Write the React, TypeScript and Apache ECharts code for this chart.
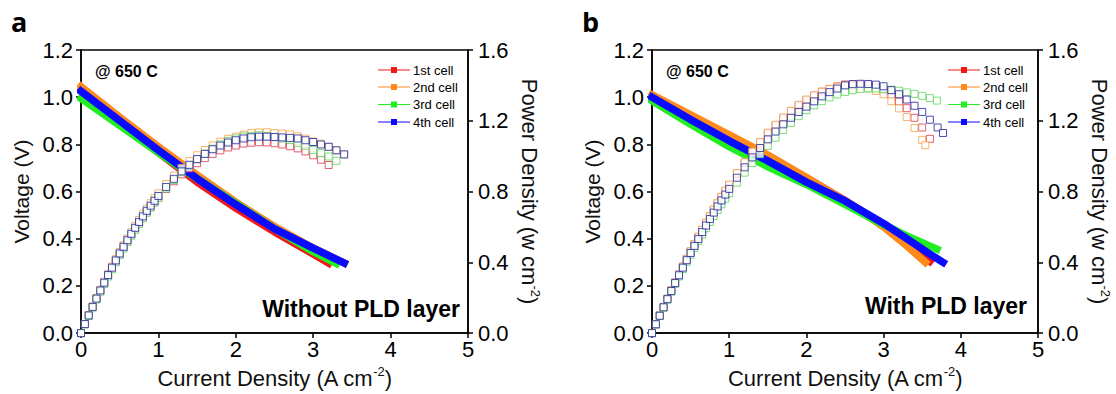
import React, { useEffect, useRef } from "react";
import * as echarts from "echarts";

const FONT = "'Liberation Sans', Arial, sans-serif";

const CELLS = ["1st cell", "2nd cell", "3rd cell", "4th cell"];
const VOLT_COLORS = ["#f01818", "#ff8a1c", "#22ee22", "#0a0aff"];
const POWER_COLORS = ["#d83a4a", "#f3a24a", "#5ad65a", "#22229e"];

const X_TICKS = [0, 1, 2, 3, 4, 5];
const V_TICKS = [0, 0.2, 0.4, 0.6, 0.8, 1.0, 1.2];
const P_TICKS = [0, 0.4, 0.8, 1.2, 1.6];

// current grid on which the power-density points were read (A cm-2)
const CURRENT_GRID = [
  0, 0.05, 0.1, 0.15, 0.2, 0.25, 0.3, 0.35, 0.4, 0.45, 0.5, 0.55, 0.6, 0.65, 0.7, 0.75, 0.8, 0.85, 0.9, 0.95, 1.0,
  1.1, 1.2, 1.3, 1.4, 1.5, 1.6, 1.7, 1.8, 1.9, 2.0, 2.1, 2.2, 2.3, 2.4, 2.5, 2.6, 2.7, 2.8, 2.9, 3.0, 3.1, 3.2, 3.3,
  3.4, 3.5, 3.6, 3.7,
];

// ---------- panel a (without PLD layer) ----------
const a1VoltI = [0, 0.5, 1, 1.5, 2, 2.5, 3, 3.2];
const a1Volt = [1.03, 0.895, 0.765, 0.64, 0.53, 0.429, 0.335, 0.297];
const a1Power = [
  0, 0.051, 0.1, 0.148, 0.195, 0.241, 0.285, 0.327, 0.369, 0.409, 0.448, 0.485, 0.521, 0.556, 0.59, 0.623, 0.654,
  0.683, 0.712, 0.739, 0.765, 0.814, 0.858, 0.897, 0.931, 0.96, 0.989, 1.013, 1.033, 1.049, 1.06, 1.071, 1.076,
  1.079, 1.078, 1.073, 1.066, 1.056, 1.044, 1.027, 1.005, 0.98, 0.95,
];

const a2VoltI = [0, 0.5, 1, 1.5, 2, 2.5, 3, 3.4];
const a2Volt = [1.045, 0.915, 0.79, 0.67, 0.555, 0.452, 0.361, 0.297];
const a2Power = [
  0, 0.052, 0.102, 0.151, 0.199, 0.245, 0.29, 0.334, 0.376, 0.418, 0.458, 0.496, 0.534, 0.57, 0.606, 0.639, 0.672,
  0.703, 0.734, 0.762, 0.79, 0.843, 0.89, 0.933, 0.972, 1.005, 1.035, 1.061, 1.082, 1.098, 1.11, 1.121, 1.131,
  1.134, 1.135, 1.13, 1.128, 1.123, 1.112, 1.099, 1.083, 1.07, 1.053, 1.033, 1.01,
];

const a3VoltI = [0, 0.5, 1, 1.5, 2, 2.5, 3, 3.3];
const a3Volt = [0.995, 0.88, 0.765, 0.655, 0.55, 0.443, 0.345, 0.295];
const a3Power = [
  0, 0.049, 0.097, 0.144, 0.19, 0.234, 0.278, 0.32, 0.361, 0.401, 0.44, 0.478, 0.514, 0.55, 0.584, 0.617, 0.649,
  0.68, 0.709, 0.738, 0.765, 0.817, 0.865, 0.909, 0.948, 0.983, 1.014, 1.042, 1.066, 1.085, 1.1, 1.111, 1.115,
  1.118, 1.114, 1.108, 1.1, 1.091, 1.075, 1.059, 1.035, 1.017, 0.998, 0.974,
];

const a4VoltI = [0, 0.5, 1, 1.5, 2, 2.5, 3, 3.4];
const a4Volt = [1.025, 0.9, 0.775, 0.655, 0.545, 0.442, 0.36, 0.297];
const a4Power = [
  0, 0.051, 0.1, 0.148, 0.195, 0.241, 0.285, 0.328, 0.37, 0.411, 0.45, 0.488, 0.525, 0.561, 0.595, 0.628, 0.66,
  0.691, 0.72, 0.748, 0.775, 0.826, 0.872, 0.914, 0.951, 0.983, 1.013, 1.039, 1.06, 1.077, 1.09, 1.1, 1.107, 1.11,
  1.11, 1.108, 1.106, 1.103, 1.1, 1.09, 1.08, 1.066, 1.053, 1.033, 1.01,
];

// ---------- panel b (with PLD layer) ----------
const b1VoltI = [0, 0.5, 1, 1.5, 2, 2.5, 3, 3.3, 3.6];
const b1Volt = [1.005, 0.92, 0.835, 0.752, 0.658, 0.562, 0.458, 0.385, 0.305];
const b1Power = [
  0, 0.05, 0.099, 0.147, 0.194, 0.241, 0.286, 0.331, 0.375, 0.418, 0.46, 0.501, 0.542, 0.581, 0.62, 0.658, 0.695,
  0.731, 0.767, 0.801, 0.835, 0.9, 0.962, 1.021, 1.077, 1.128, 1.173, 1.214, 1.253, 1.286, 1.316, 1.342, 1.364,
  1.38, 1.394, 1.405, 1.407, 1.404, 1.4, 1.389, 1.374, 1.345, 1.309, 1.271, 1.217, 1.162, 1.098,
];
const b1PowerEnd: number[] = [];

const b2VoltI = [0, 0.5, 1, 1.5, 2, 2.5, 3, 3.3, 3.54];
const b2Volt = [1.01, 0.925, 0.84, 0.755, 0.66, 0.56, 0.45, 0.37, 0.3];
const b2Power = [
  0, 0.05, 0.099, 0.148, 0.195, 0.242, 0.288, 0.333, 0.377, 0.42, 0.463, 0.504, 0.545, 0.585, 0.624, 0.662, 0.699,
  0.736, 0.771, 0.806, 0.84, 0.905, 0.967, 1.026, 1.081, 1.133, 1.178, 1.219, 1.256, 1.29, 1.32, 1.344, 1.364,
  1.38, 1.392, 1.4, 1.399, 1.393, 1.383, 1.369, 1.35, 1.311, 1.27, 1.221, 1.159, 1.092,
];
const b2PowerEnd = [3.54, 1.062];

const b3VoltI = [0, 0.5, 1, 1.5, 2, 2.5, 3, 3.3, 3.5, 3.69];
const b3Volt = [0.985, 0.885, 0.79, 0.705, 0.63, 0.545, 0.46, 0.412, 0.383, 0.356];
const b3Power = [
  0, 0.049, 0.097, 0.143, 0.189, 0.234, 0.278, 0.32, 0.362, 0.403, 0.443, 0.482, 0.52, 0.557, 0.593, 0.628, 0.662,
  0.696, 0.728, 0.76, 0.79, 0.85, 0.907, 0.961, 1.011, 1.058, 1.104, 1.148, 1.188, 1.226, 1.26, 1.287, 1.311,
  1.332, 1.349, 1.363, 1.373, 1.38, 1.383, 1.383, 1.38, 1.376, 1.37, 1.36, 1.352, 1.341, 1.328,
];
const b3PowerEnd = [3.69, 1.314];

const b4VoltI = [0, 0.5, 1, 1.5, 2, 2.5, 3, 3.3, 3.6, 3.77];
const b4Volt = [1.0, 0.905, 0.815, 0.73, 0.64, 0.56, 0.465, 0.4, 0.335, 0.3];
const b4Power = [
  0, 0.05, 0.098, 0.146, 0.192, 0.238, 0.283, 0.327, 0.37, 0.412, 0.453, 0.493, 0.532, 0.571, 0.608, 0.645, 0.681,
  0.716, 0.75, 0.783, 0.815, 0.878, 0.937, 0.993, 1.046, 1.095, 1.139, 1.18, 1.217, 1.25, 1.28, 1.31, 1.338, 1.362,
  1.382, 1.4, 1.407, 1.409, 1.408, 1.404, 1.395, 1.373, 1.35, 1.32, 1.285, 1.25, 1.206, 1.162,
];
const b4PowerEnd = [3.77, 1.131];

const PANEL_LABELS = ["a", "b"];
const TEMP_LABEL = "@ 650 C";
const CONDITION_LABELS = ["Without PLD layer", "With PLD layer"];

// layout
const GRIDS = [
  { left: 81, top: 50, width: 387, height: 287 },
  { left: 652, top: 50, width: 386, height: 287 },
];

function pairs(xs: number[], ys: number[]) {
  return ys.map((y, i) => [xs[i], y]);
}
function powerData(vals: number[], end: number[]) {
  const d = pairs(CURRENT_GRID, vals);
  if (end.length === 2) d.push([end[0], end[1]]);
  return d;
}

export default function App() {
  const ref = useRef<HTMLDivElement>(null);

  useEffect(() => {
    if (!ref.current) return;
    const chart = echarts.init(ref.current, undefined, { renderer: "svg" });

    const axisLine = { show: true, lineStyle: { color: "#000", width: 1.5 } };
    const axisTick = { show: true, inside: false, length: 5, lineStyle: { color: "#000", width: 1.5 } };
    const tickLabel = { fontSize: 22, color: "#000", fontFamily: FONT };
    const richName = {
      t: { fontSize: 22, fontFamily: FONT, color: "#111", lineHeight: 26, verticalAlign: "middle" },
      s: { fontSize: 13, fontFamily: FONT, color: "#111", lineHeight: 14, verticalAlign: "top" },
    };

    const xAxes = [0, 1].map((g) => ({
      type: "value",
      gridIndex: g,
      min: X_TICKS[0],
      max: X_TICKS[X_TICKS.length - 1],
      interval: 1,
      axisLine,
      axisTick,
      splitLine: { show: false },
      axisLabel: { ...tickLabel, margin: 5, formatter: (v: number) => String(v) },
      name: "{t|Current Density (A cm}{s|-2}{t|)}",
      nameLocation: "middle",
      nameGap: 29,
      nameTextStyle: { rich: richName },
    }));

    const yAxes: any[] = [];
    [0, 1].forEach((g) => {
      yAxes.push({
        type: "value",
        gridIndex: g,
        position: "left",
        min: V_TICKS[0],
        max: V_TICKS[V_TICKS.length - 1],
        interval: 0.2,
        axisLine,
        axisTick,
        splitLine: { show: false },
        axisLabel: { ...tickLabel, margin: 8, formatter: (v: number) => v.toFixed(1) },
        name: "Voltage (V)",
        nameLocation: "middle",
        nameGap: 49,
        nameTextStyle: { fontSize: 21, fontFamily: FONT, color: "#111" },
      });
      yAxes.push({
        type: "value",
        gridIndex: g,
        position: "right",
        min: P_TICKS[0],
        max: P_TICKS[P_TICKS.length - 1],
        interval: 0.4,
        axisLine,
        axisTick,
        splitLine: { show: false },
        axisLabel: { ...tickLabel, margin: 10, formatter: (v: number) => v.toFixed(1) },
        name: "{t|Power Density (w cm}{s|-2}{t|)}",
        nameLocation: "middle",
        nameRotate: -90,
        nameGap: 48,
        nameTextStyle: { rich: richName },
      });
    });

    const volt = [
      [a1VoltI, a1Volt, b1VoltI, b1Volt],
      [a2VoltI, a2Volt, b2VoltI, b2Volt],
      [a3VoltI, a3Volt, b3VoltI, b3Volt],
      [a4VoltI, a4Volt, b4VoltI, b4Volt],
    ];
    const power = [
      [a1Power, [] as number[], b1Power, b1PowerEnd],
      [a2Power, [] as number[], b2Power, b2PowerEnd],
      [a3Power, [] as number[], b3Power, b3PowerEnd],
      [a4Power, [] as number[], b4Power, b4PowerEnd],
    ];

    const series: any[] = [];
    [0, 1].forEach((g) => {
      CELLS.forEach((name, c) => {
        series.push({
          type: "line",
          name,
          xAxisIndex: g,
          yAxisIndex: g * 2,
          data: pairs(volt[c][g * 2], volt[c][g * 2 + 1]),
          symbol: "none",
          silent: true,
          lineStyle: { color: VOLT_COLORS[c], width: 7.5, cap: "square", join: "round" },
          z: 2,
        });
      });
      CELLS.forEach((name, c) => {
        series.push({
          type: "scatter",
          name,
          xAxisIndex: g,
          yAxisIndex: g * 2 + 1,
          data: powerData(power[c][g * 2], power[c][g * 2 + 1]),
          symbol: "rect",
          symbolSize: 7,
          silent: true,
          itemStyle: { color: "#fff", borderColor: POWER_COLORS[c], borderWidth: 1 },
          z: 3,
        });
      });
    });

    const graphics: any[] = [];
    GRIDS.forEach((gr, g) => {
      const right = gr.left + gr.width;
      graphics.push({
        type: "text",
        left: g === 0 ? 11 : 582,
        top: 8,
        style: { text: PANEL_LABELS[g], fontSize: 27, fontWeight: "bold", fontFamily: "'Open Sans', sans-serif", fill: "#000" },
      });
      graphics.push({
        type: "text",
        x: gr.left + 14,
        y: 71,
        style: { text: TEMP_LABEL, fontSize: 16, fontWeight: "bold", fontFamily: FONT, fill: "#000", verticalAlign: "middle" },
      });
      graphics.push({
        type: "text",
        x: right - (g === 0 ? 8 : 11),
        y: g === 0 ? 309 : 306,
        style: {
          text: CONDITION_LABELS[g],
          fontSize: 23,
          fontWeight: "bold",
          fontFamily: FONT,
          fill: "#000",
          align: "right",
          verticalAlign: "middle",
        },
      });
      const rows = [70, 87, 104.5, 122];
      CELLS.forEach((name, c) => {
        const y = rows[c];
        graphics.push({
          type: "line",
          shape: { x1: right - 90, y1: y, x2: right - 58, y2: y },
          style: { stroke: VOLT_COLORS[c], lineWidth: 1 },
        });
        graphics.push({
          type: "rect",
          shape: { x: right - 77, y: y - 3, width: 6, height: 6 },
          style: { fill: VOLT_COLORS[c] },
        });
        graphics.push({
          type: "text",
          x: right - 55,
          y,
          style: { text: name, fontSize: 13, fontFamily: FONT, fill: "#000", verticalAlign: "middle" },
        });
      });
    });

    chart.setOption({
      animation: false,
      backgroundColor: "#fff",
      grid: GRIDS.map((gr) => ({
        ...gr,
        show: true,
        borderColor: "#000",
        borderWidth: 1.5,
        backgroundColor: "transparent",
        containLabel: false,
      })),
      xAxis: xAxes,
      yAxis: yAxes,
      series,
      graphic: graphics,
    });

    return () => chart.dispose();
  }, []);

  return (
    <div
      ref={ref}
      style={{ position: "fixed", left: 0, top: 0, width: 1116, height: 394, background: "#fff" }}
    />
  );
}
